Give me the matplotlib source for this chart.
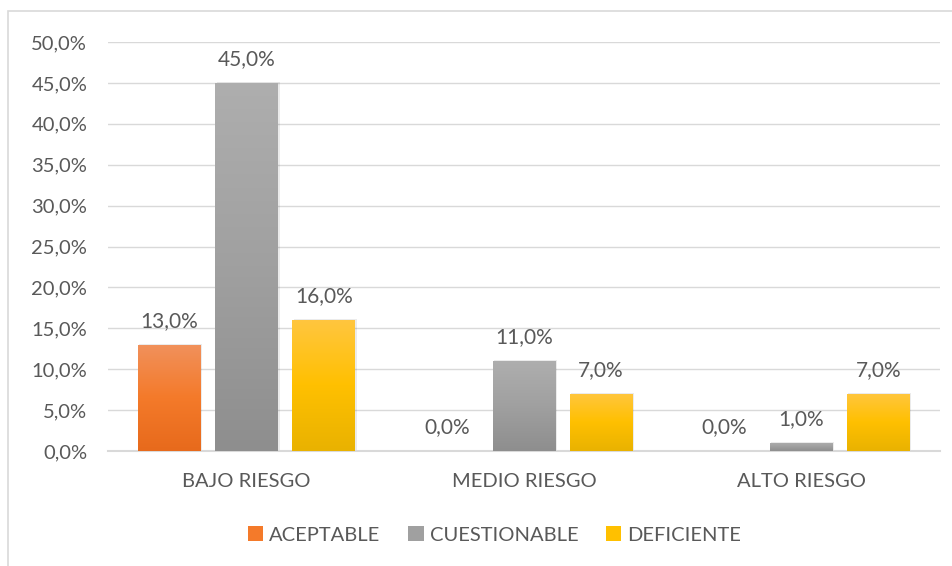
import numpy as np
import matplotlib.pyplot as plt
from matplotlib.patches import Rectangle
from matplotlib.colors import LinearSegmentedColormap

# Data
categories = ['BAJO RIESGO', 'MEDIO RIESGO', 'ALTO RIESGO']
series_names = ['ACEPTABLE', 'CUESTIONABLE', 'DEFICIENTE']
aceptable = [13.0, 0.0, 0.0]
cuestionable = [45.0, 11.0, 1.0]
deficiente = [16.0, 7.0, 7.0]
yticks = [0, 5, 10, 15, 20, 25, 30, 35, 40, 45, 50]

# gradient colours (top, bottom)
grads = [('#F1915C', '#E76A1C'), ('#AEAEAE', '#8E8E8E'), ('#FFC63F', '#E9B200')]
mid = ['#F47A2A', '#A0A0A0', '#FFC000']

plt.rcParams['font.family'] = ['Lato', 'DejaVu Sans']
txt = '#595959'
fs = 14.5

fig = plt.figure(figsize=(9.53, 5.66), dpi=100)
ax = fig.add_axes([108 / 953, 1 - 451 / 566, 832 / 953, 409 / 566])

# chart frame
fig.patches.append(Rectangle((8 / 953, -0.1), 1.1, 1 - 11 / 566 + 0.1,
                             transform=fig.transFigure, fill=False,
                             edgecolor='#D9D9D9', linewidth=1.2, zorder=0))

x = np.arange(len(categories))
width = 0.227
offset = 0.278
all_series = [aceptable, cuestionable, deficiente]

for i, vals in enumerate(all_series):
    pos = x + (i - 1) * offset
    bars = ax.bar(pos, vals, width, color=mid[i], label=series_names[i], zorder=3)
    cmap = LinearSegmentedColormap.from_list('g%d' % i, [grads[i][1], mid[i], grads[i][0]])
    for b, v in zip(bars, vals):
        if v <= 0:
            continue
        bx, bw = b.get_x(), b.get_width()
        # soft shadow
        ax.add_patch(Rectangle((bx + 0.005, 0), bw, v + 0.12, facecolor='#000000',
                               alpha=0.08, edgecolor='none', zorder=2))
        grad = np.linspace(0, 1, 256).reshape(-1, 1)
        im = ax.imshow(grad, cmap=cmap, origin='lower', aspect='auto',
                       extent=[bx, bx + bw, 0, v], zorder=3.5)
        im.set_clip_path(b)
    for p, v in zip(pos, vals):
        ax.annotate(('%.1f%%' % v).replace('.', ','), (p, v), xytext=(0, 10),
                    textcoords='offset points', ha='center', va='bottom',
                    fontsize=15, color=txt, zorder=5)

ax.set_xlim(-0.5, 2.5)
ax.set_ylim(0, 50)
ax.set_yticks(yticks)
ax.set_yticklabels([('%.1f%%' % t).replace('.', ',') for t in yticks])
ax.set_xticks(x)
ax.set_xticklabels(categories)
ax.tick_params(axis='both', length=0, labelsize=fs, labelcolor=txt)
ax.tick_params(axis='y', pad=15)
ax.tick_params(axis='x', pad=16)
ax.grid(axis='y', color='#D9D9D9', linewidth=1.0, zorder=0)
for s in ['top', 'right', 'left']:
    ax.spines[s].set_visible(False)
ax.spines['bottom'].set_color('#D9D9D9')
ax.spines['bottom'].set_linewidth(1.5)

handles = [Rectangle((0, 0), 1, 1, facecolor=mid[i]) for i in range(3)]
fig.legend(handles, series_names, loc='center', bbox_to_anchor=(0.519, 1 - 535 / 566),
           ncol=3, frameon=False, fontsize=fs, labelcolor=txt,
           handlelength=0.75, handleheight=0.75, handletextpad=0.3, columnspacing=1.4)

fig.savefig('out.png', dpi=100)
